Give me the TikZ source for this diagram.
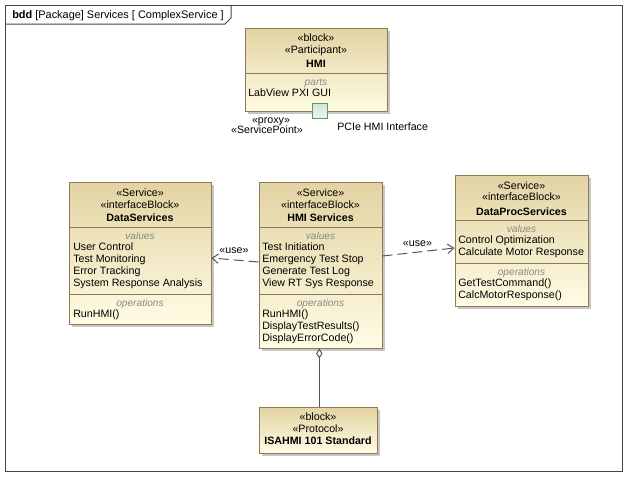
\documentclass[tikz,border=0pt]{standalone}
\usepackage{fontspec}
\setmainfont{Liberation Sans}
\usetikzlibrary{arrows.meta,shadows}
\definecolor{boxline}{HTML}{8F7A55}
\definecolor{boxtop}{HTML}{E2D3A2}
\definecolor{boxbot}{HTML}{FFFCE4}
\definecolor{frameline}{HTML}{454545}
\definecolor{portline}{HTML}{5E9C5E}
\definecolor{porttop}{HTML}{D4E2D4}
\definecolor{portbot}{HTML}{F2F6F2}
\definecolor{hdrgray}{HTML}{8A8A8A}
\definecolor{depline}{HTML}{555555}
\newcommand\dfont{\fontsize{8}{9.5}\selectfont}
\tikzset{
  blk/.style={draw=boxline, line width=0.75pt, top color=boxtop, bottom color=boxbot,
    inner sep=0pt, drop shadow={shadow xshift=2.4pt, shadow yshift=-2.4pt, fill=black!22, opacity=1}},
  sepline/.style={draw=boxline, line width=0.75pt},
  ctr/.style={anchor=base, inner sep=0pt, font=\dfont},
  ctrb/.style={anchor=base, inner sep=0pt, font=\dfont\bfseries},
  hdr/.style={anchor=base, inner sep=0pt, font=\fontsize{7.6}{9}\selectfont\itshape, text=hdrgray},
  item/.style={anchor=base west, inner sep=0pt, font=\dfont},
  dep/.style={draw=depline, line width=0.75pt, dash pattern=on 7.5pt off 3.75pt,
    -{Straight Barb[length=4.5pt,width=7pt,line width=0.75pt]}},
  lbl/.style={inner sep=0pt, font=\dfont},
}
\begin{document}
\begin{tikzpicture}[x=0.75pt,y=-0.75pt]
\useasboundingbox (0,0) rectangle (627,476);

% diagram frame and its name tab
\draw[frameline, line width=0.75pt] (5,5) rectangle (622,471);
\draw[frameline, line width=0.75pt] (5,24) -- (225,24) -- (231,18) -- (231,5);
\node[anchor=base west, inner sep=0pt, font=\fontsize{8.2}{9.5}\selectfont] (frametitle) at (12,18)
  {\textbf{bdd} [Package] Services [ ComplexService ]};

% HMI participant block
\node[blk, minimum width=106.5pt, minimum height=62.25pt] (hmi) at (316,69.5) {};
\node[ctr]  (hmiS1) at (316,41) {«block»};
\node[ctr]  (hmiS2) at (316,53) {«Participant»};
\node[ctrb] (hmiN)  at (316,67) {HMI};
\draw[sepline] (hmi.west |- 0,73) -- (hmi.east |- 0,73);
\node[hdr]  (hmiH)  at (316,85) {parts};
\node[item] (hmiP1) at (248,96) {LabView PXI GUI};

% proxy port on the HMI block
\node[draw=portline, line width=0.75pt, top color=porttop, bottom color=portbot,
  minimum width=11.25pt, minimum height=11.25pt, inner sep=0pt] (port) at (319.5,111) {};
\node[ctr]  (portS1) at (271,123) {«proxy»};
\node[ctr]  (portS2) at (267,133) {«ServicePoint»};
\node[item] (portN)  at (337,130) {PCIe HMI Interface};

% DataServices interface block
\node[blk, minimum width=106.5pt, minimum height=106.5pt] (ds) at (140,253) {};
\node[ctr]  (dsS1) at (140,196) {«Service»};
\node[ctr]  (dsS2) at (140,208) {«interfaceBlock»};
\node[ctrb] (dsN)  at (140,221) {DataServices};
\draw[sepline] (ds.west |- 0,227) -- (ds.east |- 0,227);
\node[hdr]  (dsH1) at (140,239) {values};
\foreach \t [count=\i] in {User Control,Test Monitoring,Error Tracking,System Response Analysis}
  \node[item] (dsv\i) at (73,{250+12.2*(\i-1)}) {\t};
\draw[sepline] (ds.west |- 0,294) -- (ds.east |- 0,294);
\node[hdr]  (dsH2) at (140,306) {operations};
\node[item] (dso1) at (73,317) {RunHMI()};

% HMI Services interface block
\node[blk, minimum width=92.25pt, minimum height=124.5pt] (hs) at (320.5,265) {};
\node[ctr]  (hsS1) at (320.5,196) {«Service»};
\node[ctr]  (hsS2) at (320.5,208) {«interfaceBlock»};
\node[ctrb] (hsN)  at (320.5,221) {HMI Services};
\draw[sepline] (hs.west |- 0,227) -- (hs.east |- 0,227);
\node[hdr]  (hsH1) at (320.5,239) {values};
\foreach \t [count=\i] in {Test Initiation,Emergency Test Stop,Generate Test Log,View RT Sys Response}
  \node[item] (hsv\i) at (262,{250+12.2*(\i-1)}) {\t};
\draw[sepline] (hs.west |- 0,294) -- (hs.east |- 0,294);
\node[hdr]  (hsH2) at (320.5,306) {operations};
\foreach \t [count=\i] in {{RunHMI()},{DisplayTestResults()},{DisplayErrorCode()}}
  \node[item] (hso\i) at (262,{317+12.2*(\i-1)}) {\t};

% DataProcServices interface block
\node[blk, minimum width=99.75pt, minimum height=98.25pt] (dp) at (521.5,240.5) {};
\node[ctr]  (dpS1) at (521.5,189) {«Service»};
\node[ctr]  (dpS2) at (521.5,200) {«interfaceBlock»};
\node[ctrb] (dpN)  at (521.5,215) {DataProcServices};
\draw[sepline] (dp.west |- 0,220) -- (dp.east |- 0,220);
\node[hdr]  (dpH1) at (521.5,232) {values};
\foreach \t [count=\i] in {Control Optimization,Calculate Motor Response}
  \node[item] (dpv\i) at (458,{243+12*(\i-1)}) {\t};
\draw[sepline] (dp.west |- 0,263) -- (dp.east |- 0,263);
\node[hdr]  (dpH2) at (521.5,275) {operations};
\foreach \t [count=\i] in {{GetTestCommand()},{CalcMotorResponse()}}
  \node[item] (dpo\i) at (458,{286+12.5*(\i-1)}) {\t};

% ISAHMI protocol block
\node[blk, minimum width=88.5pt, minimum height=34.5pt] (isa) at (318,430) {};
\node[ctr]  (isaS1) at (318,420) {«block»};
\node[ctr]  (isaS2) at (318,432) {«Protocol»};
\node[ctrb] (isaN)  at (318,444) {ISAHMI 101 Standard};

% shared aggregation from HMI Services to the protocol
\draw[depline, line width=0.75pt, {Diamond[open,length=7.5pt,width=4.8pt,line width=0.75pt]}-]
  (hs.south -| 319.3,0) -- (isa.north -| 319.3,0);

% usage dependencies
\draw[dep] (hs.west |- 0,262) -- (ds.east |- 0,258);
\node[lbl] (use1) at (234,251) {«use»};
\draw[dep] (hs.east |- 0,256) -- (dp.west |- 0,248);
\node[lbl] (use2) at (417.5,244) {«use»};
\end{tikzpicture}
\end{document}
